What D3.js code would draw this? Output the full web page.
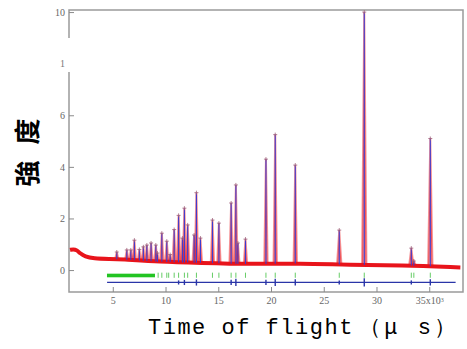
<!DOCTYPE html>
<html>
<head>
<meta charset="utf-8">
<script src="https://cdn.jsdelivr.net/npm/d3@7"></script>
<style>
  body { margin: 0; background: #fff; }
  svg { display: block; }
</style>
</head>
<body>
<div id="chart"></div>
<script>
// background of the observed pattern (x in 10^3 us, intensity)
const bgX = [0.95, 1.26, 1.58, 1.90, 2.37, 3.16, 4.74, 5.69, 9.49, 13.28, 18.03, 22.77, 27.5, 32.26, 37.95];
const bgY = [0.78, 0.81, 0.78, 0.65, 0.52, 0.45, 0.43, 0.42, 0.32, 0.28, 0.23, 0.26, 0.2, 0.19, 0.1];

// Bragg peaks
const peakPos = [5.38, 6.33, 6.71, 7.05, 7.52, 7.90, 8.23, 8.63, 9.08, 9.23, 9.65, 10.12, 10.44, 10.82,
  11.24, 11.60, 11.79, 12.10, 12.71, 12.93, 13.31, 14.45, 15.06, 16.22, 16.67, 16.86, 17.58,
  19.52, 20.40, 22.30, 26.47, 28.84, 33.30, 33.54, 35.10];
const peakHeight = [0.7, 0.78, 0.78, 1.16, 0.8, 0.9, 0.97, 1.05, 0.97, 0.66, 1.43, 1.12, 0.6, 1.57,
  2.12, 1.24, 2.4, 1.75, 1.36, 3.0, 1.24, 1.94, 1.82, 2.6, 3.3, 1.05, 1.2,
  4.3, 5.25, 4.07, 1.55, 10.0, 0.85, 0.35, 5.1];

// reflection markers: dense band plus single ticks
const tickBand = [4.45, 9.0];
const reflPos = [9.3, 9.65, 10.12, 10.3, 10.82, 11.24, 11.79, 12.10, 12.93, 14.45, 15.06,
  16.22, 16.67, 17.58, 19.52, 20.40, 22.30, 26.47, 28.84, 33.30, 33.54, 35.10];

// difference curve
const diffRange = [4.46, 37.5];
const diffPos = [11.24, 11.79, 12.93, 16.22, 16.67, 19.52, 20.40, 22.30, 26.47, 28.84, 33.30, 35.10];
const diffAmp = [0.08, 0.1, 0.12, 0.1, 0.14, 0.1, 0.14, 0.12, 0.08, 0.16, 0.08, 0.12];

const xTicks = [5, 10, 15, 20, 25, 30, 35];
const yTicks = [0, 2, 4, 6, 8, 10];
const yTickLabels = ['0', '2', '4', '6', '1', '10'];

const width = 467, height = 349;
const svg = d3.select('#chart').append('svg')
  .attr('width', width).attr('height', height);

const x = d3.scaleLinear().domain([0.85, 38.2]).range([69, 463]);
const y = d3.scaleLinear().domain([-0.85, 10.08]).range([292, 10]);
const bgAt = d3.scaleLinear().domain(bgX).range(bgY).clamp(true);

// frame
svg.append('rect')
  .attr('x', 69).attr('y', 10).attr('width', 394).attr('height', 282)
  .attr('fill', 'none').attr('stroke', '#9a9a9a').attr('stroke-width', 1.5);

// axes
const yAxis = svg.append('g')
  .attr('transform', 'translate(69,0)')
  .call(d3.axisLeft(y).tickValues(yTicks).tickSize(-5).tickPadding(4)
    .tickFormat((d, i) => yTickLabels[i]));
yAxis.select('.domain').remove();

const xAxis = svg.append('g')
  .attr('transform', 'translate(0,292)')
  .call(d3.axisBottom(x).tickValues(xTicks).tickSize(-5).tickPadding(5)
    .tickFormat(d => d === 35 ? '' : d));
xAxis.select('.domain').remove();
xAxis.selectAll('.tick').filter(d => d === 35).select('text')
  .call(t => {
    t.append('tspan').text('35x10');
    t.append('tspan').attr('dy', '-0.4em').attr('font-size', 6).text('3');
  });

svg.selectAll('.tick line').attr('stroke', '#8a8a8a');
svg.selectAll('.tick text')
  .attr('font-family', 'Liberation Serif, serif')
  .attr('font-size', 10)
  .attr('fill', '#666');

// white patch hiding part of the left axis (as in the source image)
svg.append('rect')
  .attr('x', 66).attr('y', 38).attr('width', 8).attr('height', 34)
  .attr('fill', '#fff');
svg.append('text')
  .attr('x', 65).attr('y', y(8)).attr('dy', '0.32em')
  .attr('text-anchor', 'end')
  .attr('font-family', 'Liberation Serif, serif')
  .attr('font-size', 10).attr('fill', '#777')
  .text(yTickLabels[4]);
yAxis.selectAll('.tick').filter(d => d === 8).remove();

// observed background
const bgLine = d3.line().x((d, i) => x(bgX[i])).y(d => y(d)).curve(d3.curveBasis);
svg.append('path')
  .datum(bgY)
  .attr('d', bgLine)
  .attr('fill', 'none')
  .attr('stroke', '#e8141b')
  .attr('stroke-width', 4);

// peaks
const peaks = peakPos.map((p, i) => ({ p, h: peakHeight[i] }));
const peakPath = d => {
  const px = x(d.p), w = d.p > 25 ? 2.2 : 1.7;
  const base = y(bgAt(d.p));
  return `M${px - w},${base}L${px},${y(d.h)}L${px + w},${base}`;
};
svg.append('g').selectAll('path')
  .data(peaks).enter().append('path')
  .attr('d', peakPath)
  .attr('fill', '#e8141b').attr('fill-opacity', 0.5)
  .attr('stroke', '#e8141b').attr('stroke-width', 2)
  .attr('stroke-opacity', 0.45);
svg.append('g').selectAll('path')
  .data(peaks).enter().append('path')
  .attr('d', d => `M${x(d.p)},${y(bgAt(d.p))}L${x(d.p)},${y(d.h)}`)
  .attr('stroke', '#3b3bd0').attr('stroke-width', 1.1);
svg.append('g').selectAll('path')
  .data(peaks).enter().append('path')
  .attr('d', d => {
    const px = x(d.p), py = y(d.h);
    return `M${px - 2},${py}L${px + 2},${py}M${px},${py - 2}L${px},${py + 2}`;
  })
  .attr('stroke', '#a0607a').attr('stroke-width', 0.8);

// reflection markers
svg.append('rect')
  .attr('x', x(tickBand[0])).attr('y', y(-0.14))
  .attr('width', x(tickBand[1]) - x(tickBand[0]))
  .attr('height', y(-0.28) - y(-0.14))
  .attr('fill', '#22c422');
svg.append('g').selectAll('line')
  .data(reflPos).enter().append('line')
  .attr('x1', d => x(d)).attr('x2', d => x(d))
  .attr('y1', y(-0.1)).attr('y2', y(-0.3))
  .attr('stroke', '#66cc66').attr('stroke-width', 1);

// difference curve
svg.append('line')
  .attr('x1', x(diffRange[0])).attr('x2', x(diffRange[1]))
  .attr('y1', y(-0.48)).attr('y2', y(-0.48))
  .attr('stroke', '#2a35a8').attr('stroke-width', 1.2);
svg.append('g').selectAll('line')
  .data(diffPos).enter().append('line')
  .attr('x1', d => x(d)).attr('x2', d => x(d))
  .attr('y1', (d, i) => y(-0.48 + diffAmp[i]))
  .attr('y2', (d, i) => y(-0.48 - diffAmp[i]))
  .attr('stroke', '#2a35a8').attr('stroke-width', 1.4);

// axis titles
svg.append('text')
  .attr('transform', 'translate(37,150) rotate(-90)')
  .attr('text-anchor', 'middle')
  .attr('font-family', 'Noto Sans CJK TC, sans-serif')
  .attr('font-weight', 'bold')
  .attr('font-size', 26)
  .attr('letter-spacing', 5)
  .style('white-space', 'pre')
  .text('強 度');

const xTitle = svg.append('text')
  .attr('x', 148).attr('y', 334)
  .attr('font-family', 'Liberation Mono, monospace')
  .attr('font-size', 22)
  .attr('letter-spacing', 1.5)
  .style('white-space', 'pre');
xTitle.append('tspan').text('Time of flight');
xTitle.append('tspan').attr('dx', 5).attr('letter-spacing', 3.5).text('（μ s）');
</script>
</body>
</html>
